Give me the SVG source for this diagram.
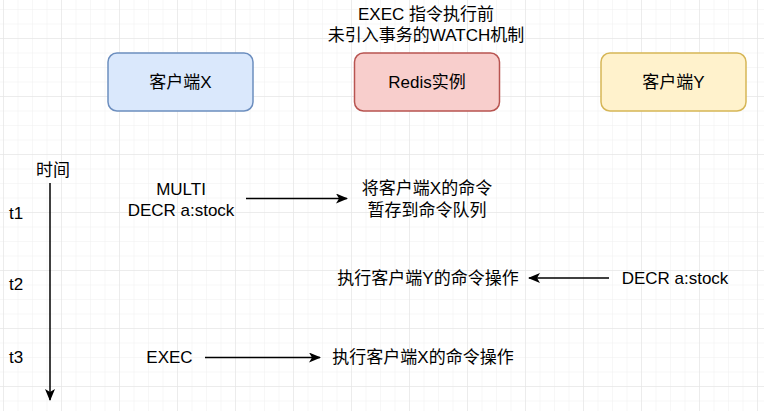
<svg xmlns="http://www.w3.org/2000/svg" width="764" height="411" viewBox="0 0 764 411">
<style>
text{font-family:"Liberation Sans","Noto Sans CJK SC",sans-serif;font-size:17px;fill:#000;text-anchor:middle}
.l{text-anchor:start}
.box{stroke-width:1.5}
.conn{stroke:#000;stroke-width:1.5;fill:none}
</style>
<defs>
<pattern id="minor" patternUnits="userSpaceOnUse" x="3" y="-20" width="14.5" height="14.5">
<path d="M0 0V14.5M0 0H14.5" stroke="#efefef" stroke-width="1" fill="none"/>
</pattern>
<pattern id="major" patternUnits="userSpaceOnUse" x="3" y="-20" width="58" height="58">
<path d="M0 0V58M0 0H58" stroke="#e2e2e2" stroke-width="1" fill="none"/>
</pattern>
<marker id="arr" viewBox="0 0 12 10" refX="11" refY="5" markerWidth="12" markerHeight="10" markerUnits="userSpaceOnUse" orient="auto">
<path d="M0 0L12 5L0 10L3 5Z" fill="#000"/>
</marker>
</defs>
<rect width="764" height="411" fill="#fff"/>
<rect width="764" height="411" fill="url(#minor)"/>
<rect width="764" height="411" fill="url(#major)"/>

<g id="title">
<text x="426" y="20">EXEC 指令执行前</text>
<text x="426" y="41">未引入事务的WATCH机制</text>
</g>
<g id="clientX">
<rect class="box" x="108" y="53" width="145" height="58" rx="9" fill="#dae8fc" stroke="#6c8ebf"/>
<text x="180.5" y="88">客户端X</text>
</g>
<g id="redis">
<rect class="box" x="354.5" y="53" width="145" height="58" rx="9" fill="#f8cecc" stroke="#b85450"/>
<text x="427" y="88">Redis实例</text>
</g>
<g id="clientY">
<rect class="box" x="601" y="53" width="145" height="58" rx="9" fill="#fff2cc" stroke="#d6b656"/>
<text x="673.5" y="88">客户端Y</text>
</g>
<g id="timeLabel"><text x="53" y="176">时间</text></g>
<g id="t1"><text class="l" x="9" y="219">t1</text></g>
<g id="t2"><text class="l" x="9" y="290">t2</text></g>
<g id="t3"><text class="l" x="9" y="363">t3</text></g>
<g id="xCmd1">
<text x="181" y="195">MULTI</text>
<text x="181" y="216">DECR a:stock</text>
</g>
<g id="redisQueue">
<text x="427" y="194">将客户端X的命令</text>
<text x="427" y="216">暂存到命令队列</text>
</g>
<g id="redisExecY"><text x="428" y="284">执行客户端Y的命令操作</text></g>
<g id="yCmd"><text x="675" y="284">DECR a:stock</text></g>
<g id="xExec"><text x="169.5" y="363">EXEC</text></g>
<g id="redisExecX"><text x="423" y="363">执行客户端X的命令操作</text></g>
<g id="connectors">
<line class="conn" x1="50" y1="183" x2="50" y2="400" marker-end="url(#arr)"/>
<line class="conn" x1="246" y1="198.5" x2="347" y2="198.5" marker-end="url(#arr)"/>
<line class="conn" x1="609" y1="278" x2="529" y2="278" marker-end="url(#arr)"/>
<line class="conn" x1="205" y1="357.5" x2="320" y2="357.5" marker-end="url(#arr)"/>
</g>
</svg>
